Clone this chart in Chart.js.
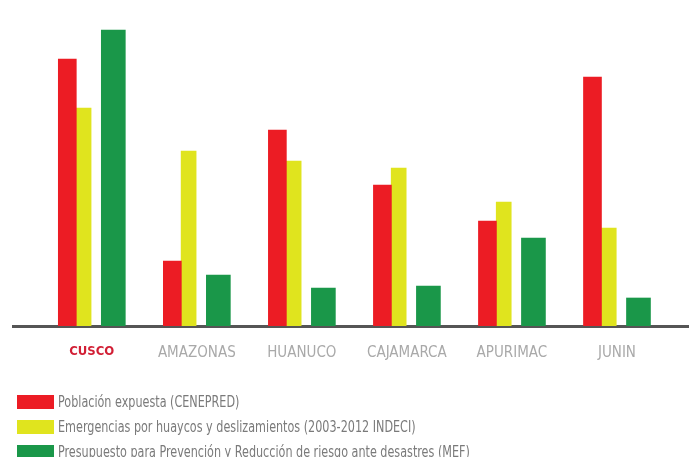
<!DOCTYPE html>
<html><head><meta charset="utf-8">
<script src="https://cdn.jsdelivr.net/npm/chart.js@4/dist/chart.umd.min.js"></script>
<style>
html,body{margin:0;padding:0;background:#fff;}
#wrap{position:relative;width:689px;height:457px;overflow:hidden;background:#fff;}
canvas{position:absolute;left:0;top:0;}
#legend{position:absolute;left:17px;top:389px;font-family:"DejaVu Sans Condensed","Liberation Sans Narrow",sans-serif;font-size:15px;color:#7a7a7a;}
.item{display:flex;align-items:center;height:25px;white-space:nowrap;}
.box{width:37px;height:14px;margin-right:4px;flex:none;}
.txt{display:inline-block;transform:scaleX(0.83);transform-origin:left center;}
</style></head>
<body><div id="wrap"><canvas id="c" width="689" height="457"></canvas><div id="legend"></div></div>
<script>
// Data (relative heights)
const categories = ['CUSCO', 'AMAZONAS', 'HUANUCO', 'CAJAMARCA', 'APURIMAC', 'JUNIN'];
const poblacionExpuesta = [267, 65, 196, 141, 105, 249];
const emergencias = [218, 175, 165, 158, 124, 98];
const presupuesto = [296, 51, 38, 40, 88, 28];
const seriesNames = [
  'Población expuesta (CENEPRED)',
  'Emergencias por huaycos y deslizamientos (2003-2012 INDECI)',
  'Presupuesto para Prevención y Reducción de riesgo ante desastres (MEF)'
];

// Styles
const colors = ['#ec1c24', '#e0e41e', '#1a9749'];
const offsets = [-0.233, -0.078, 0.205];
const thickness = [18, 15, 24];
const series = [poblacionExpuesta, emergencias, presupuesto];

const datasets = series.map((vals, k) => ({
  label: seriesNames[k],
  data: vals.map((v, i) => ({ x: i + offsets[k], y: v })),
  backgroundColor: colors[k],
  borderWidth: 0,
  barThickness: thickness[k],
  grouped: false,
  order: k
}));

const chart = new Chart(document.getElementById('c'), {
  type: 'bar',
  data: { datasets },
  options: {
    responsive: false,
    animation: false,
    layout: { padding: { left: 13, right: 0, top: 26, bottom: 0 } },
    plugins: { legend: { display: false }, tooltip: { enabled: false } },
    scales: {
      x: {
        type: 'linear',
        offset: false,
        min: -0.750,
        max: 5.686,
        grid: { display: false, drawTicks: false, offset: false },
        border: { display: true, color: '#555555', width: 3 },
        afterBuildTicks: (axis) => { axis.ticks = categories.map((_, i) => ({ value: i })); },
        afterFit: (axis) => { axis.height = 131; },
        ticks: {
          autoSkip: false,
          maxRotation: 0,
          padding: 18,
          callback: (v) => categories[v],
          color: (ctx) => ctx.index === 0 ? '#d21f35' : '#a9a9a9',
          font: (ctx) => ctx.index === 0
            ? { family: '"DejaVu Sans Condensed", "Liberation Sans Narrow", sans-serif', size: 13, weight: 'bold' }
            : { family: '"DejaVu Sans Condensed", "Liberation Sans Narrow", sans-serif', size: 15, weight: 'normal' }
        }
      },
      y: {
        display: false,
        min: 0,
        max: 300
      }
    }
  }
});

// HTML legend built from the chart's datasets
const legendEl = document.getElementById('legend');
chart.data.datasets.forEach((ds) => {
  const item = document.createElement('div');
  item.className = 'item';
  const box = document.createElement('span');
  box.className = 'box';
  box.style.background = ds.backgroundColor;
  const txt = document.createElement('span');
  txt.className = 'txt';
  txt.textContent = ds.label;
  item.appendChild(box);
  item.appendChild(txt);
  legendEl.appendChild(item);
});
</script>
</body></html>
